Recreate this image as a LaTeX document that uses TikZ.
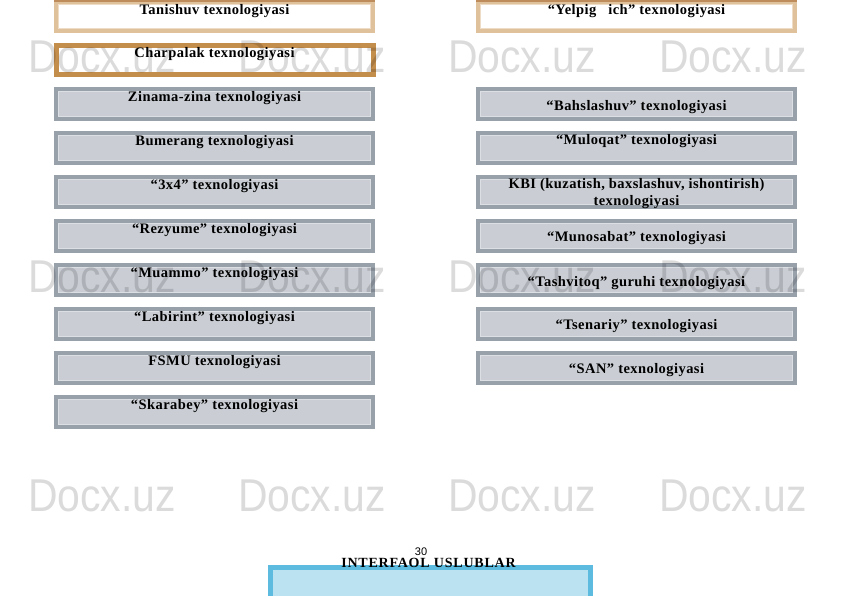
\documentclass[tikz,border=0pt]{standalone}
\usepackage{fontspec}
\setmainfont{Liberation Serif}
\newfontfamily\wmfont{Liberation Sans}
\newfontfamily\boxfont[LetterSpace=3]{Liberation Serif}
\newfontfamily\titlefont[LetterSpace=5.5]{Liberation Serif}
\definecolor{gedge}{RGB}{152,160,170}
\definecolor{gfill}{RGB}{202,206,212}
\definecolor{ginner}{RGB}{220,223,227}
\definecolor{tanlight}{RGB}{223,193,156}
\definecolor{taninner}{RGB}{238,220,198}
\definecolor{tandark}{RGB}{195,141,76}
\definecolor{tantop}{RGB}{190,140,90}
\definecolor{bedge}{RGB}{92,187,222}
\definecolor{bfill}{RGB}{186,226,240}
\tikzset{
  basebox/.style={rectangle, inner sep=0pt, outer sep=0pt, minimum width=317pt, minimum height=29.5pt, line width=4pt},
  gbox/.style={basebox, draw=gedge, fill=gfill,
    path picture={\draw[ginner, line width=0.9pt]
      ([shift={(2.4pt,-2.4pt)}]path picture bounding box.north west) rectangle
      ([shift={(-2.4pt,2.4pt)}]path picture bounding box.south east);}},
  tbox/.style={basebox, draw=tanlight, fill=white,
    path picture={\draw[taninner, line width=0.9pt]
      ([shift={(2.4pt,-2.4pt)}]path picture bounding box.north west) rectangle
      ([shift={(-2.4pt,2.4pt)}]path picture bounding box.south east);}},
  dbox/.style={basebox, draw=tandark, fill=white, line width=5pt, minimum height=29pt},
  lbl/.style={anchor=base, inner sep=0pt, font=\boxfont\bfseries\fontsize{14.5}{17}\selectfont, align=center},
  wm/.style={anchor=base west, inner sep=0pt, text=black, text opacity=0.14, font=\wmfont\fontsize{46}{46}\selectfont, xscale=0.89},
}
\begin{document}
\begin{tikzpicture}[x=1pt,y=-1pt]
\useasboundingbox (0,0) rectangle (842,595);
\clip (0,0) rectangle (842,595);
% left column
\node[tbox] (l1) at (214.5,16.5) {};
\fill[tantop] (54,0) rectangle (375,1.5);
\node[dbox] (l2) at (214.5,60) {};
\node[gbox] (l3) at (214.5,104) {};
\node[gbox] (l4) at (214.5,148) {};
\node[gbox] (l5) at (214.5,192) {};
\node[gbox] (l6) at (214.5,236) {};
\node[gbox] (l7) at (214.5,280) {};
\node[gbox] (l8) at (214.5,324) {};
\node[gbox] (l9) at (214.5,368) {};
\node[gbox] (l10) at (214.5,412) {};
% right column
\node[tbox] (r1) at (636.5,16.5) {};
\fill[tantop] (476,0) rectangle (797,1.5);
\node[gbox] (r2) at (636.5,104) {};
\node[gbox] (r3) at (636.5,148) {};
\node[gbox] (r4) at (636.5,192) {};
\node[gbox] (r5) at (636.5,236) {};
\node[gbox] (r6) at (636.5,280) {};
\node[gbox] (r7) at (636.5,324) {};
\node[gbox] (r8) at (636.5,368) {};
% bottom blue box
\node[basebox, draw=bedge, fill=bfill, line width=5pt, minimum width=320pt, minimum height=60pt] (blue) at (430.5,597) {};
% labels left
\node[lbl] (tl1) at (214.5,14) {Tanishuv texnologiyasi};
\node[lbl] (tl2) at (214.5,57) {Charpalak texnologiyasi};
\node[lbl] (tl3) at (214.5,101) {Zinama-zina texnologiyasi};
\node[lbl] (tl4) at (214.5,145) {Bumerang texnologiyasi};
\node[lbl] (tl5) at (214.5,189) {“3x4” texnologiyasi};
\node[lbl] (tl6) at (214.5,233) {“Rezyume” texnologiyasi};
\node[lbl] (tl7) at (214.5,277) {“Muammo” texnologiyasi};
\node[lbl] (tl8) at (214.5,321) {“Labirint” texnologiyasi};
\node[lbl] (tl9) at (214.5,365) {FSMU texnologiyasi};
\node[lbl] (tl10) at (214.5,409) {“Skarabey” texnologiyasi};
% labels right
\node[lbl] (tr1) at (636.5,14) {“Yelpig\hspace{12pt}ich” texnologiyasi};
\node[lbl] (tr2) at (636.5,110) {“Bahslashuv” texnologiyasi};
\node[lbl] (tr3) at (636.5,144) {“Muloqat” texnologiyasi};
\node[lbl, anchor=north] (tr4) at (636.5,178.5) {KBI (kuzatish, baxslashuv, ishontirish)\\texnologiyasi};
\node[lbl] (tr5) at (636.5,241) {“Munosabat” texnologiyasi};
\node[lbl] (tr6) at (636.5,286) {“Tashvitoq” guruhi texnologiyasi};
\node[lbl] (tr7) at (636.5,329) {“Tsenariy” texnologiyasi};
\node[lbl] (tr8) at (636.5,373) {“SAN” texnologiyasi};
% page number and title
\node[anchor=base, inner sep=0pt, font=\wmfont\fontsize{11}{11}\selectfont] (pg) at (421,555.5) {30};
\node[anchor=base, inner sep=0pt, font=\titlefont\bfseries\fontsize{14}{14}\selectfont] (title) at (428.5,567.5) {INTERFAOL USLUBLAR};
% watermarks
\foreach \r/\yy in {a/72, b/292, c/511}{
  \foreach \c/\xx in {1/28, 2/238, 3/448, 4/659}{
    \node[wm] (wm\r\c) at (\xx,\yy) {Docx.uz};
  }
}
\end{tikzpicture}
\end{document}
